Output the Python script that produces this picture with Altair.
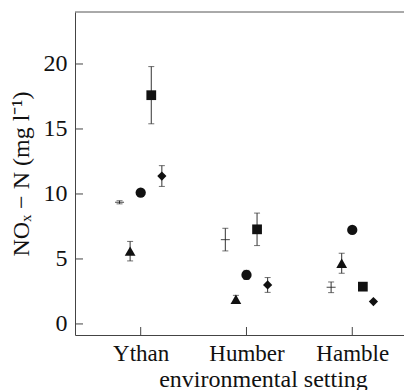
import altair as alt
import pandas as pd

sites = ["Ythan", "Humber", "Hamble"]
series = ["cross", "triangle", "circle", "square", "diamond"]

mean_cross = [9.36, 6.49, 2.82]
mean_triangle = [5.6, 1.9, 4.67]
mean_circle = [10.1, 3.77, 7.23]
mean_square = [17.6, 7.28, 2.87]
mean_diamond = [11.38, 3.0, 1.72]

err_cross = [0.12, 0.87, 0.41]
err_triangle = [0.75, 0.3, 0.77]
err_circle = [0.0, 0.35, 0.0]
err_square = [2.2, 1.25, 0.0]
err_diamond = [0.8, 0.57, 0.0]

y_ticks = [0, 5, 10, 15, 20]
x_ticks = [1, 2, 3]

means = [mean_cross, mean_triangle, mean_circle, mean_square, mean_diamond]
errs = [err_cross, err_triangle, err_circle, err_square, err_diamond]

rows = []
for si, s in enumerate(series):
    for k, site in enumerate(sites):
        m = means[si][k]
        e = errs[si][k]
        rows.append({"series": s, "site": site, "x": k + 1 + (si - 2) * 0.1,
                     "mean": m, "err": e, "lo": m - e, "hi": m + e})
df = pd.DataFrame(rows)

FONT = "Liberation Serif"
W, H = 329, 323
xscale = alt.Scale(domain=[0.379, 3.489], nice=False, zero=False)
yscale = alt.Scale(domain=[-0.85, 24.0], nice=False, zero=False)

xaxis = alt.Axis(values=x_ticks, ticks=False, grid=False, domainColor="#444",
                 labelExpr="datum.value == 1 ? 'Ythan' : datum.value == 2 ? 'Humber' : 'Hamble'",
                 labelFont=FONT, labelFontSize=23, labelColor="#111", labelPadding=7,
                 title="environmental setting", titleFont=FONT, titleFontSize=24,
                 titleFontWeight="normal", titleColor="#111",
                 titleX=188, titleY=51, titleAlign="center", titleBaseline="alphabetic")
yaxis = alt.Axis(values=y_ticks, ticks=False, grid=False, domainColor="#444",
                 labelFont=FONT, labelFontSize=24, labelColor="#111", labelPadding=8,
                 title="NOₓ − N (mg l⁻¹)", titleFont=FONT, titleFontSize=24,
                 titleFontWeight="normal", titleColor="#111", titlePadding=10)


def X(f):
    return alt.X(f, scale=xscale, axis=xaxis)


def Y(f):
    return alt.Y(f, scale=yscale, axis=yaxis)


base = alt.Chart(df)

bars = base.transform_filter("datum.err > 0").mark_rule(color="#333", strokeWidth=1).encode(
    x=X("x:Q"), y=Y("lo:Q"), y2="hi:Q",
)

caps = base.transform_filter("datum.err > 0").transform_fold(["lo", "hi"], as_=["end", "val"]).mark_tick(
    orient="horizontal", size=6, thickness=1, color="#333").encode(
    x=X("x:Q"), y=Y("val:Q"),
)

cross = base.transform_filter("datum.series == 'cross'").mark_tick(
    orient="horizontal", size=9, thickness=1.2, color="#222").encode(
    x=X("x:Q"), y=Y("mean:Q"),
)

points = base.transform_filter("datum.series != 'cross'").mark_point(
    filled=True, opacity=1, color="#111").encode(
    x=X("x:Q"), y=Y("mean:Q"),
    shape=alt.Shape("series:N", scale=alt.Scale(domain=["triangle", "circle", "square", "diamond"],
                                                  range=["triangle-up", "circle", "square", "diamond"]),
                    legend=None),
    size=alt.Size("series:N", scale=alt.Scale(domain=["triangle", "circle", "square", "diamond"],
                                                range=[115, 85, 75, 100]), legend=None),
)

yt = alt.Chart(pd.DataFrame({"v": y_ticks})).mark_rule(color="#444").encode(
    y=Y("v:Q"), x=alt.value(0), x2=alt.value(8))
xt = alt.Chart(pd.DataFrame({"v": x_ticks})).mark_rule(color="#444").encode(
    x=X("v:Q"), y=alt.value(H), y2=alt.value(H - 8))
top = alt.Chart(pd.DataFrame({"v": [0]})).mark_rule(color="#555").encode(
    y=alt.value(0), x=alt.value(0), x2=alt.value(W))

chart = alt.layer(bars, caps, cross, points, yt, xt, top).properties(
    width=W, height=H,
    autosize=alt.AutoSizeParams(type="none"),
    padding={"left": 67, "top": 4, "right": 0, "bottom": 55},
    background="white",
).configure_view(stroke=None)

chart.save("out.html", embed_options={"renderer": "svg", "actions": False})
